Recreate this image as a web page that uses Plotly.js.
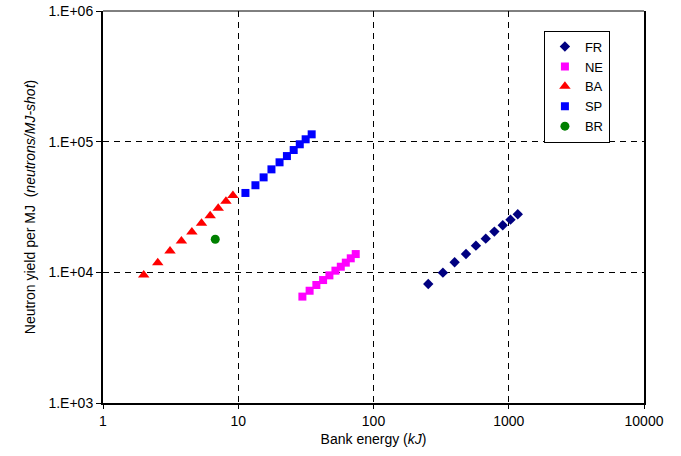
<!DOCTYPE html>
<html>
<head>
<meta charset="utf-8">
<script src="https://cdn.plot.ly/plotly-3.0.1.min.js"></script>
<style>html,body{margin:0;padding:0;background:#fff;}#chart{width:681px;height:456px;}</style>
</head>
<body>
<div id="chart"></div>
<script>
// Data
const frEnergy = [254, 326, 398, 483, 572, 676, 783, 903, 1030, 1166];
const frYield  = [8150, 9940, 11950, 13800, 16000, 18100, 20500, 22900, 25300, 27800];

const neEnergy = [29.8, 33.7, 37.8, 42.4, 47.2, 52.3, 57.3, 62.4, 67.9, 73.9];
const neYield  = [6520, 7230, 8000, 8730, 9480, 10300, 11040, 11860, 12800, 13800];

const baEnergy = [2.0, 2.54, 3.13, 3.80, 4.54, 5.35, 6.20, 7.11, 8.11, 9.13];
const baYield  = [9560, 11860, 14550, 17380, 20370, 23700, 27100, 30900, 35000, 38800];

const spEnergy = [11.3, 13.4, 15.4, 17.6, 20.2, 22.9, 25.7, 28.5, 31.5, 34.9];
const spYield  = [40500, 46400, 53300, 61400, 69500, 77600, 86300, 95500, 104300, 113800];

const brEnergy = [6.76];
const brYield  = [17900];

const xTickVals = [1, 10, 100, 1000, 10000];
const xTickText = ['1', '10', '100', '1000', '10000'];
const yTickVals = [1000, 10000, 100000, 1000000];
const yTickText = ['1.E+03', '1.E+04', '1.E+05', '1.E+06'];

const traces = [
  {name: 'FR', x: frEnergy, y: frYield, mode: 'markers', type: 'scatter',
   marker: {symbol: 'diamond', size: 8, color: '#000080'}},
  {name: 'NE', x: neEnergy, y: neYield, mode: 'markers', type: 'scatter',
   marker: {symbol: 'square', size: 8, color: '#ff00ff'}},
  {name: 'BA', x: baEnergy, y: baYield, mode: 'markers', type: 'scatter',
   marker: {symbol: 'triangle-up', size: 10, color: '#ff0000'}},
  {name: 'SP', x: spEnergy, y: spYield, mode: 'markers', type: 'scatter',
   marker: {symbol: 'square', size: 8, color: '#0000ff'}},
  {name: 'BR', x: brEnergy, y: brYield, mode: 'markers', type: 'scatter',
   marker: {symbol: 'circle', size: 9, color: '#008000'}}
];

const layout = {
  width: 681, height: 456,
  margin: {l: 103, r: 37, t: 11, b: 53},
  paper_bgcolor: '#ffffff', plot_bgcolor: '#ffffff',
  font: {family: 'Liberation Sans, Arial, sans-serif', size: 14, color: '#000'},
  showlegend: true,
  legend: {
    x: 0.815, y: 0.95, xanchor: 'left', yanchor: 'top',
    bordercolor: '#000', borderwidth: 1, bgcolor: '#fff',
    font: {size: 13}, itemwidth: 30, tracegroupgap: 0
  },
  xaxis: {
    type: 'log', range: [0, 4],
    tickvals: xTickVals, ticktext: xTickText,
    ticks: 'outside', ticklen: 4, tickcolor: '#000', tickwidth: 1,
    showline: true, linecolor: '#000', linewidth: 2,
    showgrid: true, gridcolor: '#000', gridwidth: 1, griddash: '6px,5px',
    zeroline: false,
    tickfont: {size: 14},
    title: {text: 'Bank energy (<i>kJ</i>)', font: {size: 14}, standoff: 6}
  },
  yaxis: {
    type: 'log', range: [3, 6],
    tickvals: yTickVals, ticktext: yTickText,
    ticks: 'outside', ticklen: 5, tickcolor: '#000', tickwidth: 1,
    showline: true, linecolor: '#000', linewidth: 2, mirror: true,
    showgrid: true, gridcolor: '#000', gridwidth: 1, griddash: '6px,5px',
    zeroline: false,
    tickfont: {size: 14},
    title: {text: 'Neutron yield per MJ  (<i>neutrons/MJ-shot</i>)', font: {size: 14}, standoff: 10}
  },
  shapes: [
    {type: 'line', xref: 'paper', yref: 'paper', x0: 0, x1: 1, y0: 1, y1: 1,
     line: {color: '#000', width: 1}}
  ]
};

Plotly.newPlot('chart', traces, layout, {displayModeBar: false, staticPlot: true});
</script>
</body>
</html>
